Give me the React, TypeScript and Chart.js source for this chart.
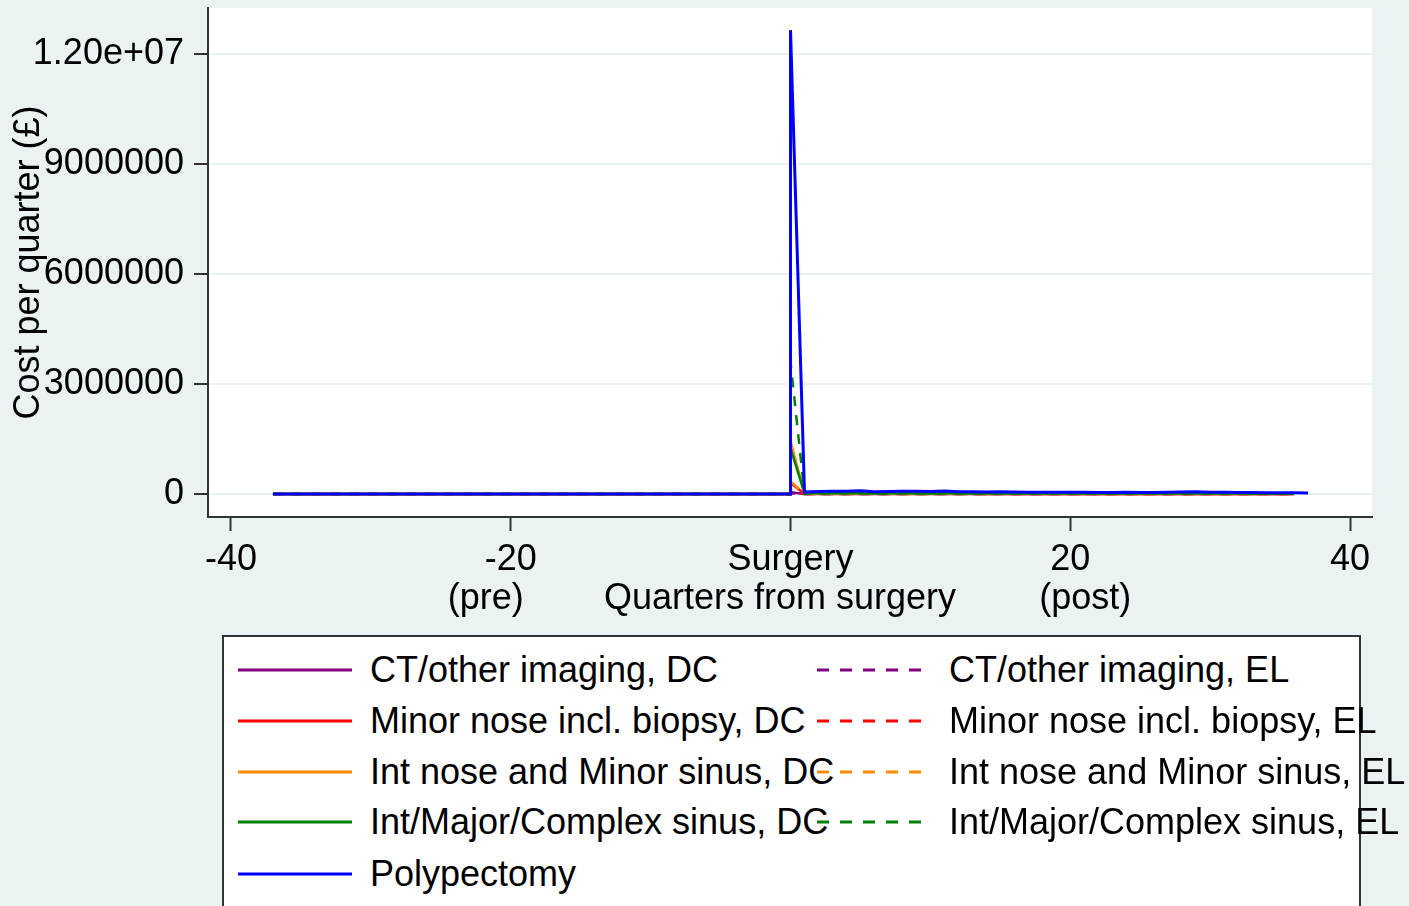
import React, { useEffect, useRef } from "react";
import { Chart, registerables } from "chart.js";

Chart.register(...registerables);

// Quarter from surgery for each observation (surgery quarter appears twice: pre value, then surgery value)
const quarters = [
  -37, -36, -35, -34, -33, -32, -31, -30, -29, -28, -27, -26, -25, -24, -23, -22, -21, -20, -19,
  -18, -17, -16, -15, -14, -13, -12, -11, -10, -9, -8, -7, -6, -5, -4, -3, -2, -1, 0,
  0, 1, 2, 3, 4, 5, 6, 7, 8, 9, 10, 11, 12, 13, 14, 15, 16, 17, 18, 19, 20, 21, 22, 23, 24,
  25, 26, 27, 28, 29, 30, 31, 32, 33, 34, 35, 36, 37,
];

// Pre-surgery costs (quarters -37 .. 0) read as zero for every series
const preSurgery = [
  0, 0, 0, 0, 0, 0, 0, 0, 0, 0, 0, 0, 0, 0, 0, 0, 0, 0, 0,
  0, 0, 0, 0, 0, 0, 0, 0, 0, 0, 0, 0, 0, 0, 0, 0, 0, 0, 0,
];

// Surgery quarter and post-surgery quarters (1 .. 37), £ per quarter
const ctDcPost = [50000,
  3000, 3000, 2500, 3000, 2800, 2600, 3000, 2700, 2500, 2600, 2800, 2400, 2500, 2300, 2400, 2200, 2300, 2100, 2200,
  2000, 2100, 2000, 1900, 2000, 1800, 1900, 2000, 2100, 1900, 1800, 1700, 1700, 1600, 1600, 1500, 1400];
const ctElPost = [20000,
  1200, 1100, 1000, 1100, 1000, 900, 1000, 900, 900, 800, 900, 800, 800, 700, 800, 700, 700, 700, 600,
  600, 600, 600, 500, 600, 500, 500, 600, 600, 500, 500, 500, 400, 400, 400, 400, 300];
const minorDcPost = [300000,
  4000, 4500, 4200, 4000, 4600, 3800, 4000, 4200, 3900, 3700, 4100, 3600, 3500, 3400, 3500, 3200, 3100, 3000, 3000,
  2900, 2900, 2800, 2700, 2800, 2600, 2600, 2900, 3000, 3100, 2800, 2600, 2500, 2400, 2300, 2200, 2100];
const minorElPost = [100000,
  1800, 2000, 1900, 1800, 2100, 1700, 1800, 1900, 1700, 1600, 1800, 1500, 1500, 1400, 1500, 1300, 1300, 1200, 1200,
  1200, 1100, 1100, 1000, 1100, 1000, 1000, 1100, 1200, 1200, 1100, 1000, 900, 900, 900, 800, 800];
const intNoseDcPost = [1450000,
  8000, 9000, 8500, 8000, 9500, 7500, 8000, 8500, 7800, 7400, 8200, 7200, 7000, 6800, 7000, 6400, 6200, 6000, 6000,
  5800, 5800, 5600, 5400, 5600, 5200, 5200, 5800, 6000, 6200, 5600, 5200, 5000, 4800, 4600, 4400, 4200];
const intNoseElPost = [350000,
  3000, 3400, 3200, 3000, 3600, 2800, 3000, 3200, 2900, 2800, 3100, 2700, 2600, 2500, 2600, 2400, 2300, 2200, 2200,
  2100, 2100, 2000, 1900, 2000, 1900, 1900, 2100, 2200, 2300, 2100, 1900, 1800, 1700, 1700, 1600, 1500];
const intMajorDcPost = [1250000,
  18000, 20000, 19000, 18000, 21000, 17000, 18000, 19000, 17500, 16500, 18500, 16000, 15500, 15000, 15500, 14000, 13500, 13000, 13000,
  12500, 12500, 12000, 11500, 12000, 11000, 11000, 12500, 13000, 13500, 12000, 11000, 10500, 10000, 9500, 9000, 8500];
const intMajorElPost = [3600000,
  10000, 12000, 11000, 10500, 12500, 9500, 10000, 11000, 10000, 9500, 10500, 9000, 8800, 8500, 8800, 8000, 7800, 7500, 7500,
  7200, 7200, 7000, 6800, 7000, 6500, 6500, 7200, 7500, 7800, 7000, 6500, 6200, 6000, 5800, 5500, 5200];
const polypectomyPost = [12650000,
  52000, 68000, 75000, 72000, 90000, 62000, 70000, 78000, 72000, 66000, 82000, 62000, 58000, 56000, 60000, 52000, 50000, 47000, 46000,
  45000, 46000, 44000, 41000, 45000, 40000, 42000, 50000, 56000, 60000, 50000, 45000, 41000, 40000, 36000, 35000, 34000, 30000];

const yTickValues = [0, 3000000, 6000000, 9000000, 12000000];
const yTickLabels = ["0", "3000000", "6000000", "9000000", "1.20e+07"];
const xTickValues = [-40, -20, 0, 20, 40];
const xTickLabels: (string | string[])[] = [
  ["-40"],
  ["-20", "(pre)     "],
  ["Surgery"],
  ["20", "   (post)"],
  ["40"],
];
const xTitle = "Quarters from surgery  ";
const yTitle = "Cost per quarter (£)";

const PURPLE = "#800080";
const RED = "#FF0000";
const ORANGE = "#FF8C00";
const GREEN = "#008000";
const BLUE = "#0000FF";
const DASH = [10, 9];

type SeriesDef = { label: string; values: number[]; color: string; dashed: boolean };

const seriesDefs: SeriesDef[] = [
  { label: "Polypectomy", values: polypectomyPost, color: BLUE, dashed: false },
  { label: "Int/Major/Complex sinus, EL", values: intMajorElPost, color: GREEN, dashed: true },
  { label: "Int/Major/Complex sinus, DC", values: intMajorDcPost, color: GREEN, dashed: false },
  { label: "Int nose and Minor sinus, EL", values: intNoseElPost, color: ORANGE, dashed: true },
  { label: "Int nose and Minor sinus, DC", values: intNoseDcPost, color: ORANGE, dashed: false },
  { label: "Minor nose incl. biopsy, EL", values: minorElPost, color: RED, dashed: true },
  { label: "Minor nose incl. biopsy, DC", values: minorDcPost, color: RED, dashed: false },
  { label: "CT/other imaging, EL", values: ctElPost, color: PURPLE, dashed: true },
  { label: "CT/other imaging, DC", values: ctDcPost, color: PURPLE, dashed: false },
];

const legendRows: { label: string; color: string; dashed: boolean; col: number; row: number }[] = [
  { label: "CT/other imaging, DC", color: PURPLE, dashed: false, col: 0, row: 0 },
  { label: "CT/other imaging, EL", color: PURPLE, dashed: true, col: 1, row: 0 },
  { label: "Minor nose incl. biopsy, DC", color: RED, dashed: false, col: 0, row: 1 },
  { label: "Minor nose incl. biopsy, EL", color: RED, dashed: true, col: 1, row: 1 },
  { label: "Int nose and Minor sinus, DC", color: ORANGE, dashed: false, col: 0, row: 2 },
  { label: "Int nose and Minor sinus, EL", color: ORANGE, dashed: true, col: 1, row: 2 },
  { label: "Int/Major/Complex sinus, DC", color: GREEN, dashed: false, col: 0, row: 3 },
  { label: "Int/Major/Complex sinus, EL", color: GREEN, dashed: true, col: 1, row: 3 },
  { label: "Polypectomy", color: BLUE, dashed: false, col: 0, row: 4 },
];

const FONT = '"Liberation Sans", Arial, Helvetica, sans-serif';
const BG = "#EAF2F3";
const AXIS = "#333333";

const plotBackground = {
  id: "plotBackground",
  beforeDraw(chart: any) {
    const { ctx, chartArea } = chart;
    ctx.save();
    ctx.fillStyle = "#FFFFFF";
    ctx.fillRect(chartArea.left, chartArea.top, chartArea.right - chartArea.left, chartArea.bottom - chartArea.top);
    ctx.restore();
  },
};

export default function App() {
  const canvasRef = useRef<HTMLCanvasElement | null>(null);

  useEffect(() => {
    if (!canvasRef.current) return;
    const datasets = seriesDefs.map((s) => {
      const values = [...preSurgery, ...s.values];
      return {
        label: s.label,
        data: quarters.map((q, i) => ({ x: q, y: values[i] })),
        borderColor: s.color,
        backgroundColor: s.color,
        borderWidth: s.color === BLUE ? 3 : 2.5,
        borderDash: s.dashed ? DASH : [],
        pointRadius: 0,
        tension: 0,
        fill: false,
      };
    });

    const chart = new Chart(canvasRef.current, {
      type: "line",
      data: { datasets },
      plugins: [plotBackground],
      options: {
        animation: false,
        responsive: false,
        devicePixelRatio: 1,
        layout: { padding: { left: 0, top: 8, right: 37, bottom: 287 } },
        plugins: { legend: { display: false }, tooltip: { enabled: false }, title: { display: false } },
        scales: {
          x: {
            type: "linear",
            min: -41.643,
            max: 41.571,
            afterFit: (scale: any) => {
              scale.height = 102;
              scale.paddingLeft = 0;
              scale.paddingRight = 0;
            },
            afterBuildTicks: (scale: any) => {
              scale.ticks = xTickValues.map((v) => ({ value: v }));
            },
            ticks: {
              autoSkip: false,
              maxRotation: 0,
              minRotation: 0,
              padding: 10,
              color: "#000000",
              font: { family: FONT, size: 36, lineHeight: "39px" },
              callback: (value: any) => {
                const idx = xTickValues.indexOf(Number(value));
                return idx >= 0 ? xTickLabels[idx] : "";
              },
            },
            grid: {
              drawOnChartArea: false,
              drawTicks: true,
              tickLength: 14,
              tickColor: AXIS,
              tickWidth: 2,
            },
            border: { display: true, color: AXIS, width: 2 },
            title: {
              display: true,
              text: xTitle,
              color: "#000000",
              font: { family: FONT, size: 36, lineHeight: "39px" },
              padding: { top: 0, bottom: 0 },
            },
          },
          y: {
            type: "linear",
            min: -627273,
            max: 13254545,
            afterFit: (scale: any) => {
              scale.width = 208;
              scale.paddingTop = 0;
              scale.paddingBottom = 0;
            },
            afterBuildTicks: (scale: any) => {
              scale.ticks = yTickValues.map((v) => ({ value: v }));
            },
            ticks: {
              autoSkip: false,
              padding: 10,
              color: "#000000",
              font: { family: FONT, size: 36, lineHeight: "39px" },
              callback: (value: any) => {
                const idx = yTickValues.indexOf(Number(value));
                return idx >= 0 ? yTickLabels[idx] : "";
              },
            },
            grid: {
              drawOnChartArea: true,
              color: BG,
              lineWidth: 2,
              drawTicks: true,
              tickLength: 14,
              tickColor: AXIS,
              tickWidth: 2,
            },
            border: { display: true, color: AXIS, width: 2 },
            title: {
              display: true,
              text: yTitle,
              color: "#000000",
              font: { family: FONT, size: 36, lineHeight: "39px" },
              padding: { top: 10, bottom: 0 },
            },
          },
        },
      } as any,
    });
    return () => chart.destroy();
  }, []);

  const colX = [238, 817];
  const textX = [370, 949];
  const rowY = [670, 721, 772, 822, 874];

  return (
    <div
      style={{
        position: "absolute",
        left: 0,
        top: 0,
        width: 1409,
        height: 906,
        background: BG,
        overflow: "hidden",
        fontFamily: FONT,
      }}
    >
      <canvas ref={canvasRef} width={1409} height={906} style={{ display: "block", position: "absolute", left: 0, top: 0 }} />
      <div
        style={{
          position: "absolute",
          left: 222,
          top: 635,
          width: 1135,
          height: 300,
          background: "#FFFFFF",
          border: "2px solid #333333",
        }}
      />
      {legendRows.map((item, i) => (
        <React.Fragment key={i}>
          <svg
            width={114}
            height={6}
            style={{ position: "absolute", left: colX[item.col], top: rowY[item.row] - 3 }}
          >
            <line
              x1={0}
              y1={3}
              x2={114}
              y2={3}
              stroke={item.color}
              strokeWidth={3}
              strokeDasharray={item.dashed ? "12 11" : undefined}
            />
          </svg>
          <div
            style={{
              position: "absolute",
              left: textX[item.col],
              top: rowY[item.row] - 20,
              height: 40,
              lineHeight: "40px",
              fontSize: 36,
              color: "#000000",
              whiteSpace: "nowrap",
            }}
          >
            {item.label}
          </div>
        </React.Fragment>
      ))}
    </div>
  );
}
